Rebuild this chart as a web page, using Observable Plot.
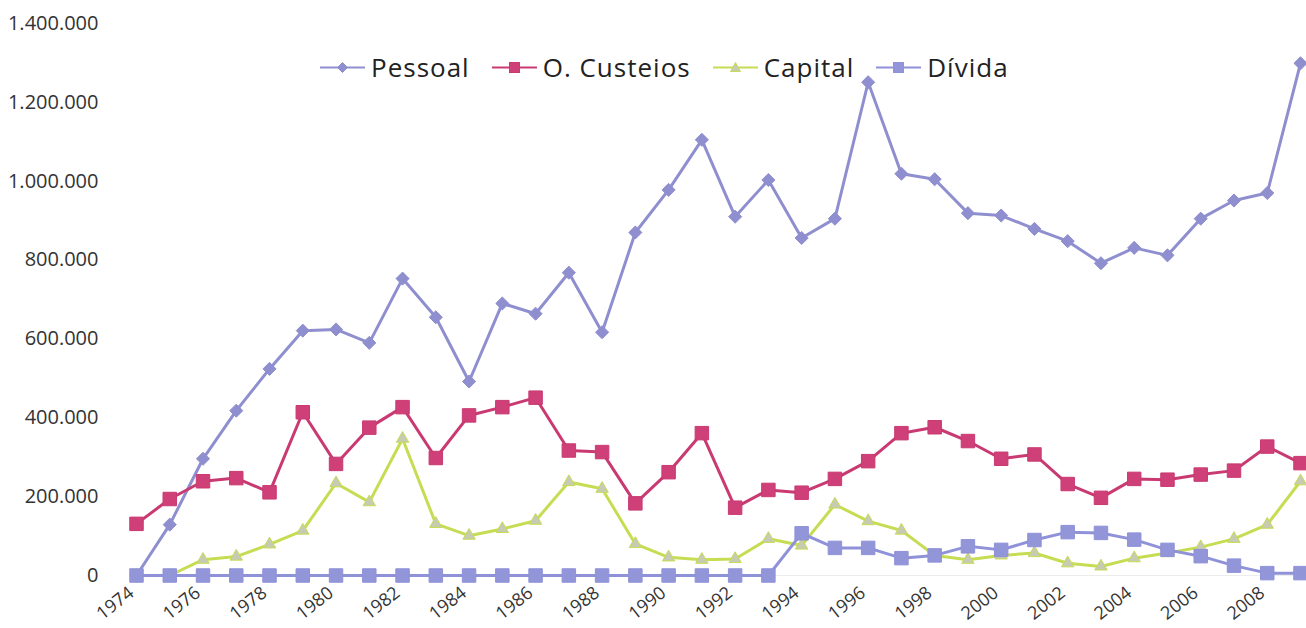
<!DOCTYPE html>
<html><head><meta charset="utf-8">
<script src="https://cdn.jsdelivr.net/npm/d3@7"></script>
<script src="https://cdn.jsdelivr.net/npm/@observablehq/plot@0.6"></script>
<style>
body{margin:0;background:#fff;}
#wrap{position:relative;width:1306px;height:628px;font-family:"Open Sans",sans-serif;}
#legend{position:absolute;top:49px;left:320px;display:flex;align-items:center;gap:22px;font-size:26px;letter-spacing:1px;color:#222;white-space:nowrap;}
#legend .item{display:flex;align-items:center;gap:6px;}
</style></head><body>
<div id="wrap"><div id="chart"></div><div id="legend"></div></div>
<script>
const years = [1974,1975,1976,1977,1978,1979,1980,1981,1982,1983,1984,1985,1986,1987,1988,1989,1990,1991,
  1992,1993,1994,1995,1996,1997,1998,1999,2000,2001,2002,2003,2004,2005,2006,2007,2008,2009];
const pessoal = [0,129000,296000,418000,524000,621000,624000,590000,753000,655000,492000,690000,664000,768000,617000,870000,978000,1105000,
  910000,1003000,856000,905000,1251000,1019000,1005000,919000,913000,879000,848000,792000,831000,812000,905000,951000,970000,1299000];
const custeios = [131000,194000,239000,247000,211000,414000,283000,375000,427000,298000,406000,427000,451000,317000,313000,183000,262000,361000,
  172000,217000,210000,245000,290000,361000,376000,341000,296000,307000,232000,197000,245000,243000,256000,266000,327000,285000];
const capital = [0,0,40000,48000,79000,114000,234000,186000,347000,131000,101000,118000,139000,237000,220000,80000,46000,40000,
  42000,93000,76000,180000,138000,114000,51000,40000,51000,57000,31000,23000,44000,57000,72000,93000,129000,239000];
const divida = [0,0,0,0,0,0,0,0,0,0,0,0,0,0,0,0,0,0,
  0,0,107000,70000,70000,44000,51000,74000,65000,90000,110000,108000,91000,65000,49000,25000,6000,6000];
const seriesNames = ["Pessoal","O. Custeios","Capital","Dívida"];
const xTicks = [1974,1976,1978,1980,1982,1984,1986,1988,1990,1992,1994,1996,1998,2000,2002,2004,2006,2008];
const yTicks = [0,200000,400000,600000,800000,1000000,1200000,1400000];

const styles = {
  "Pessoal":    {line:"#8f8fd0", fill:"#8f8fd0", stroke:"#8f8fd0", symbol:"diamond2", r:5.9},
  "O. Custeios":{line:"#c93a72", fill:"#cf3f78", stroke:"#c93a72", symbol:"square", r:7.6},
  "Capital":    {line:"#c6dc52", fill:"#c8cab2", stroke:"#c6dc52", symbol:"triangle", r:4.6},
  "Dívida":     {line:"#8f92d8", fill:"#9295d8", stroke:"#8f92d8", symbol:"square", r:7.6}
};
const valuesBy = {"Pessoal":pessoal,"O. Custeios":custeios,"Capital":capital,"Dívida":divida};
const data = seriesNames.flatMap(s => years.map((y,i) => ({series:s, year:y, value:valuesBy[s][i]})));

const loc = d3.formatLocale({decimal:",", thousands:".", grouping:[3], currency:["",""]});
const fmt = loc.format(",d");

const marks = [
  Plot.ruleY([0], {stroke:"#ececec", strokeWidth:1}),
  Plot.axisX({ticks:xTicks, tickFormat:d => String(d), tickSize:0, tickRotate:-38, tickPadding:6, dx:-5, dy:9, label:null, fill:"#333", fontSize:18}),
  Plot.axisY({ticks:yTicks, tickFormat:fmt, tickSize:0, tickPadding:38, label:null, fill:"#333"})
];
for (const s of seriesNames) {
  const st = styles[s];
  const d = data.filter(v => v.series === s);
  marks.push(Plot.line(d, {x:"year", y:"value", stroke:st.line, strokeWidth:3}));
  marks.push(Plot.dot(d, {x:"year", y:"value", symbol:st.symbol, r:st.r, fill:st.fill, stroke:st.stroke, strokeWidth:1}));
}

const chart = Plot.plot({
  width:1306, height:628,
  marginLeft:136, marginRight:6, marginTop:23, marginBottom:53,
  style:{fontFamily:"Open Sans, sans-serif", fontSize:"20px", color:"#333", background:"#fff"},
  x:{type:"linear", domain:[1974,2009]},
  y:{domain:[0,1400000]},
  marks
});
document.getElementById("chart").appendChild(chart);

const legend = document.getElementById("legend");
const symPaths = {
  "Pessoal": '<path d="M22.5 5.5 L27.5 10.5 L22.5 15.5 L17.5 10.5 Z"/>',
  "O. Custeios": '<rect x="17.5" y="5.5" width="10" height="10"/>',
  "Capital": '<path d="M22.5 5.5 L27.5 14.5 L17.5 14.5 Z"/>',
  "Dívida": '<rect x="17.5" y="5.5" width="10" height="10"/>'
};
for (const s of seriesNames) {
  const st = styles[s];
  const item = document.createElement("div");
  item.className = "item";
  item.innerHTML = `<svg width="45" height="21"><line x1="0" x2="45" y1="10.5" y2="10.5" stroke="${st.line}" stroke-width="2.2"/>` +
    `<g fill="${st.fill}" stroke="${st.stroke}">${symPaths[s]}</g></svg><span>${s}</span>`;
  legend.appendChild(item);
}
</script>
</body></html>
